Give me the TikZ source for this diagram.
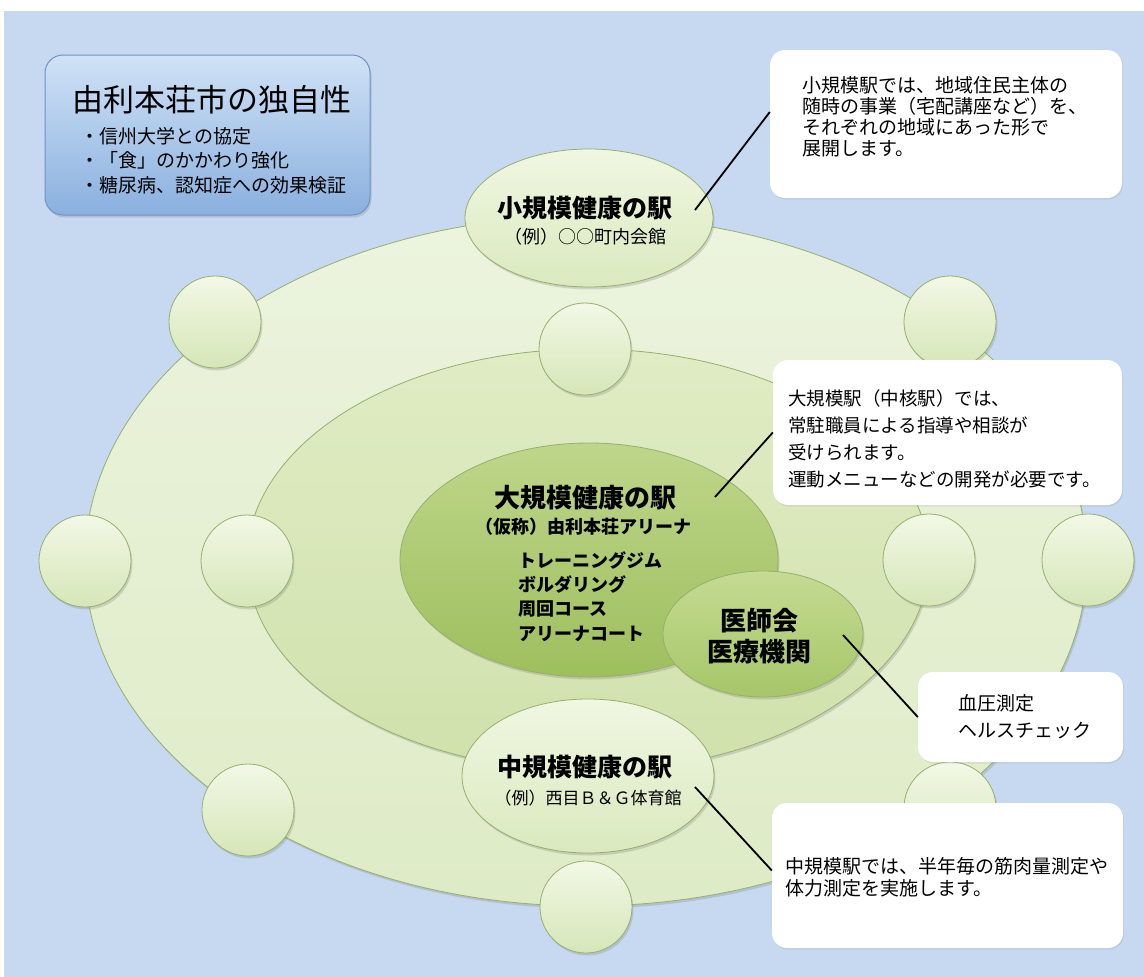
\documentclass[tikz,border=0pt]{standalone}
\usepackage{fontspec}
\setmainfont{Noto Sans CJK JP}
\usetikzlibrary{shapes.geometric,shadows}
\definecolor{bgblue}{RGB}{198,217,240}
\definecolor{outertop}{RGB}{236,244,222}
\definecolor{outerg}{RGB}{222,235,198}
\definecolor{midtop}{RGB}{224,236,196}
\definecolor{midg}{RGB}{208,225,172}
\definecolor{bigtop}{RGB}{190,214,138}
\definecolor{bigg}{RGB}{158,191,94}
\definecolor{doctop}{RGB}{196,219,146}
\definecolor{docg}{RGB}{166,198,104}
\definecolor{circtop}{RGB}{242,248,230}
\definecolor{circg}{RGB}{214,230,184}
\definecolor{smalltop}{RGB}{240,247,226}
\definecolor{smallg}{RGB}{218,233,190}
\definecolor{edgeg}{RGB}{150,175,110}
\definecolor{titletop}{RGB}{208,226,246}
\definecolor{titlebot}{RGB}{138,176,222}
\definecolor{titleedge}{RGB}{112,146,196}
\tikzset{
  sh/.style={drop shadow={opacity=0.28,shadow xshift=1.5pt,shadow yshift=-2.5pt}},
  oval/.style={ellipse,inner sep=0pt,sh,draw=edgeg,line width=0.8pt},
  bub/.style={circle,minimum size=92pt,inner sep=0pt,sh,draw=edgeg,line width=0.8pt,top color=circtop,bottom color=circg},
  note/.style={rectangle,rounded corners=15pt,fill=white,inner sep=0pt,drop shadow={opacity=0.15,shadow xshift=1pt,shadow yshift=-1.5pt}},
  conn/.style={line width=1.8pt,black},
  txt/.style={inner sep=0pt,text=black},
}
\begin{document}
\begin{tikzpicture}[x=1pt,y=-1pt]
\useasboundingbox (0,0) rectangle (1144,977);
\fill[white] (0,0) rectangle (1144,977);
\fill[bgblue] (4,11) rectangle (1144,977);

% outer ring
\node[oval,minimum width=1002pt,minimum height=690pt,top color=outertop,bottom color=outerg] (outer) at (586,561) {};
% outer ring stations
\node[bub] (cUL) at (215,322) {};
\node[bub] (cL) at (85,561) {};
\node[bub] (cLL) at (248,810) {};
\node[bub] (cB) at (586,907) {};
\node[bub] (cLR) at (950,808) {};
\node[bub] (cR) at (1088,560) {};
\node[bub] (cUR) at (950,322) {};
% middle ring
\node[oval,minimum width=682pt,minimum height=422pt,top color=midtop,bottom color=midg] (middle) at (588,560) {};
\node[bub] (cT) at (585,349) {};
\node[bub] (cLI) at (247,561) {};
\node[bub] (cRI) at (929,560) {};
% small and medium stations
\node[oval,minimum width=248pt,minimum height=138pt,top color=smalltop,bottom color=smallg] (smallst) at (589,218) {};
\node[oval,minimum width=252pt,minimum height=154pt,top color=smalltop,bottom color=smallg] (midst) at (588,776) {};
% large station and doctors
\node[oval,minimum width=378pt,minimum height=234pt,top color=bigtop,bottom color=bigg] (bigst) at (589,560) {};
\node[oval,minimum width=200pt,minimum height=126pt,top color=doctop,bottom color=docg] (doc) at (763,634) {};

% connectors' inner ends
\coordinate (c1) at (695,210);
\coordinate (c2) at (715,497);
\coordinate (c3) at (843,635);
\coordinate (c4) at (695,787);

% boxes
\node[rectangle,rounded corners=18pt,inner sep=0pt,minimum width=325pt,minimum height=160pt,top color=titletop,bottom color=titlebot,draw=titleedge,line width=1pt,sh] (tbox) at (207.5,135) {};
\node[note,minimum width=352pt,minimum height=148pt] (box1) at (946,124) {};
\node[note,minimum width=349pt,minimum height=145pt] (box2) at (947.5,432.5) {};
\node[note,minimum width=205pt,minimum height=90pt] (box3) at (1020.5,717) {};
\node[note,minimum width=351pt,minimum height=145pt] (box4) at (947.5,875.5) {};

% connectors
\draw[conn] (c1) -- ([yshift=12pt]box1.west);
\draw[conn] (c2) -- (box2.west);
\draw[conn] (c3) -- (box3.west);
\draw[conn] (c4) -- ([yshift=5pt]box4.west);

% title box text
\node[txt,anchor=west,font=\fontsize{31}{36}\selectfont] (ttitle) at (72,100) {由利本荘市の独自性};
\node[txt,anchor=west,align=left,font=\fontsize{19}{24.5}\selectfont] (tlist) at (80,160.5) {・信州大学との協定\\・「食」のかかわり強化\\・糖尿病、認知症への効果検証};

% box texts
\node[txt,anchor=west,align=left,font=\fontsize{19}{21}\selectfont] (t1) at (802,116.5) {小規模駅では、地域住民主体の\\随時の事業（宅配講座など）を、\\それぞれの地域にあった形で\\展開します。};
\node[txt,anchor=west,align=left,font=\fontsize{18.5}{27}\selectfont] (t2) at (788,438.5) {大規模駅（中核駅）では、\\常駐職員による指導や相談が\\受けられます。\\運動メニューなどの開発が必要です。};
\node[txt,anchor=west,align=left,font=\fontsize{19}{27}\selectfont] (t3) at (958,716.5) {血圧測定\\ヘルスチェック};
\node[txt,anchor=west,align=left,font=\fontsize{19}{21.5}\selectfont] (t4) at (785,877.5) {中規模駅では、半年毎の筋肉量測定や\\体力測定を実施します。};

% station texts
\node[txt,font=\bfseries\fontsize{25}{30}\selectfont] (s1a) at (585,208) {小規模健康の駅};
\node[txt,font=\fontsize{18}{22}\selectfont] (s1b) at (585,237) {（例）○○町内会館};
\node[txt,font=\bfseries\fontsize{25}{30}\selectfont] (s2a) at (585,767) {中規模健康の駅};
\node[txt,font=\fontsize{17}{22}\selectfont] (s2b) at (588,798) {（例）西目Ｂ＆Ｇ体育館};
\node[txt,font=\bfseries\fontsize{26}{30}\selectfont] (s3a) at (585,498) {大規模健康の駅};
\node[txt,font=\bfseries\fontsize{18}{22}\selectfont] (s3b) at (583,527) {（仮称）由利本荘アリーナ};
\node[txt,anchor=west,align=left,font=\bfseries\fontsize{18}{24.3}\selectfont] (s3c) at (518,596.5) {トレーニングジム\\ボルダリング\\周回コース\\アリーナコート};
\node[txt,align=center,font=\bfseries\fontsize{26}{31}\selectfont] (s4) at (759,636) {医師会\\医療機関};
\end{tikzpicture}
\end{document}
